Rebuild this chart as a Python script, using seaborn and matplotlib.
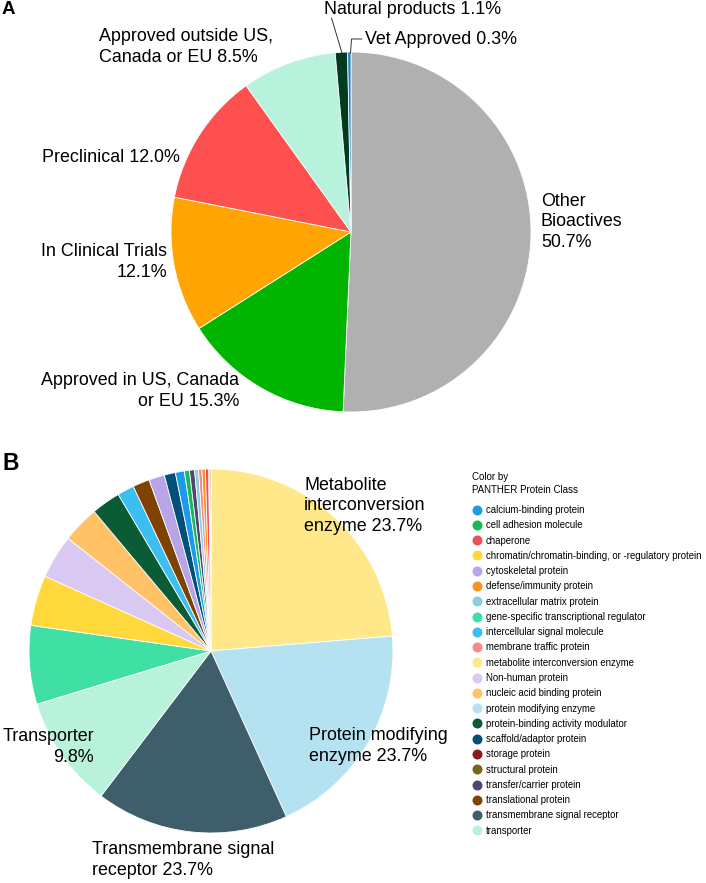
import matplotlib
matplotlib.use("Agg")
import matplotlib.pyplot as plt
from matplotlib.lines import Line2D
import seaborn as sns

sns.set_theme(style="white")
plt.rcParams['font.family'] = ['Liberation Sans', 'DejaVu Sans']
plt.rcParams['text.color'] = 'black'

# ---------------- Panel A data ----------------
a_labels = ["Other Bioactives", "Approved in US, Canada or EU", "In Clinical Trials",
            "Preclinical", "Approved outside US, Canada or EU", "Natural products",
            "Vet Approved"]
a_values = [50.7, 15.3, 12.1, 12.0, 8.5, 1.1, 0.3]
a_colors = ["#b0b0b0", "#00b400", "#ffa400", "#ff5050", "#b8f2dc", "#003d20", "#1e7fd0"]

# ---------------- Panel B data ----------------
b_classes = ["metabolite interconversion enzyme", "protein modifying enzyme",
             "transmembrane signal receptor", "transporter",
             "gene-specific transcriptional regulator",
             "chromatin/chromatin-binding, or -regulatory protein", "Non-human protein",
             "nucleic acid binding protein", "protein-binding activity modulator",
             "intercellular signal molecule", "translational protein", "cytoskeletal protein",
             "scaffold/adaptor protein", "calcium-binding protein", "cell adhesion molecule",
             "transfer/carrier protein", "extracellular matrix protein",
             "membrane traffic protein", "defense/immunity protein", "chaperone",
             "storage protein", "structural protein"]
b_values = [23.8, 19.6, 17.2, 10.0, 7.0, 4.5, 3.9, 3.3, 2.6, 1.5, 1.5, 1.4, 1.0, 0.8,
            0.45, 0.45, 0.35, 0.3, 0.3, 0.3, 0.1, 0.1]

class_colors = {
    "calcium-binding protein": "#1e9be8",
    "cell adhesion molecule": "#19b85a",
    "chaperone": "#f0505a",
    "chromatin/chromatin-binding, or -regulatory protein": "#ffd93b",
    "cytoskeletal protein": "#b9a4e8",
    "defense/immunity protein": "#f5941e",
    "extracellular matrix protein": "#8ecae0",
    "gene-specific transcriptional regulator": "#40e0a4",
    "intercellular signal molecule": "#3bbef2",
    "membrane traffic protein": "#f48a8c",
    "metabolite interconversion enzyme": "#ffe88a",
    "Non-human protein": "#d9c8f2",
    "nucleic acid binding protein": "#ffc266",
    "protein modifying enzyme": "#b5e2f0",
    "protein-binding activity modulator": "#0a5c36",
    "scaffold/adaptor protein": "#00507a",
    "storage protein": "#8b1a1a",
    "structural protein": "#7a6512",
    "transfer/carrier protein": "#4e4570",
    "translational protein": "#7f4200",
    "transmembrane signal receptor": "#3f5e6b",
    "transporter": "#b8f2da",
}
legend_order = ["calcium-binding protein", "cell adhesion molecule", "chaperone",
                "chromatin/chromatin-binding, or -regulatory protein", "cytoskeletal protein",
                "defense/immunity protein", "extracellular matrix protein",
                "gene-specific transcriptional regulator", "intercellular signal molecule",
                "membrane traffic protein", "metabolite interconversion enzyme",
                "Non-human protein", "nucleic acid binding protein", "protein modifying enzyme",
                "protein-binding activity modulator", "scaffold/adaptor protein",
                "storage protein", "structural protein", "transfer/carrier protein",
                "translational protein", "transmembrane signal receptor", "transporter"]

W, H = 706, 883
fig = plt.figure(figsize=(W / 100, H / 100), dpi=100)


def px_axes(cx, cy, r):
    return fig.add_axes([(cx - r) / W, 1 - (cy + r) / H, 2 * r / W, 2 * r / H])


def ftext(x, y, s, **kw):
    fig.text(x / W, 1 - y / H, s, **kw)


FS = 12.9

# ---------------- Panel A ----------------
axA = px_axes(351, 232, 180)
axA.pie(a_values, colors=a_colors, startangle=90, counterclock=False, radius=1,
        wedgeprops=dict(edgecolor="white", linewidth=0.6))
axA.set_xlim(-1, 1)
axA.set_ylim(-1, 1)
axA.set_aspect("equal")
axA.axis("off")

ftext(541, 222, "Other\nBioactives\n50.7%", fontsize=FS, ha="left", va="center", linespacing=1.25)
ftext(239, 391, "Approved in US, Canada\nor EU 15.3%", fontsize=FS, ha="right", va="center", linespacing=1.25, multialignment="right")
ftext(167, 262, "In Clinical Trials\n12.1%", fontsize=FS, ha="right", va="center", linespacing=1.25, multialignment="right")
ftext(180, 157, "Preclinical 12.0%", fontsize=FS, ha="right", va="center")
ftext(99, 47, "Approved outside US,\nCanada or EU 8.5%", fontsize=FS, ha="left", va="center", linespacing=1.25)
ftext(324, 10, "Natural products 1.1%", fontsize=FS, ha="left", va="center")
ftext(365, 39, "Vet Approved 0.3%", fontsize=FS, ha="left", va="center")

# leader lines
fig.add_artist(Line2D([331.5 / W, 342 / W], [1 - 18 / H, 1 - 53 / H], color="#333333", lw=0.7))
fig.add_artist(Line2D([362 / W, 351.5 / W, 350.5 / W], [1 - 39 / H, 1 - 39 / H, 1 - 53 / H],
                      color="#333333", lw=0.7))

ftext(2, 10, "A", fontsize=13.5, fontweight="bold", ha="left", va="center")

# ---------------- Panel B ----------------
axB = px_axes(211, 651, 182)
axB.pie(b_values, colors=[class_colors[c] for c in b_classes], startangle=90,
        counterclock=False, radius=1, wedgeprops=dict(edgecolor="white", linewidth=0.6))
axB.set_xlim(-1, 1)
axB.set_ylim(-1, 1)
axB.set_aspect("equal")
axB.axis("off")

ftext(304, 506, "Metabolite\ninterconversion\nenzyme 23.7%", fontsize=FS, ha="left", va="center", linespacing=1.25)
ftext(309, 746, "Protein modifying\nenzyme 23.7%", fontsize=FS, ha="left", va="center", linespacing=1.25)
ftext(94, 747, "Transporter\n9.8%", fontsize=FS, ha="right", va="center", linespacing=1.25, multialignment="right")
ftext(92, 860, "Transmembrane signal\nreceptor 23.7%", fontsize=FS, ha="left", va="center", linespacing=1.25)

ftext(2, 463, "B", fontsize=16.5, fontweight="bold", ha="left", va="center")

# legend
ftext(472, 483.5, "Color by\nPANTHER Protein Class", fontsize=7, ha="left", va="center", linespacing=1.37)
handles = [Line2D([], [], marker="o", linestyle="none", markersize=7.2,
                  markerfacecolor=class_colors[c], markeredgecolor="none", label=c)
           for c in legend_order]
leg = fig.legend(handles=handles, loc="upper left", bbox_to_anchor=(472 / W, 1 - 505 / H),
                 frameon=False, fontsize=6.9, handletextpad=0.45,
                 labelspacing=0.55, handlelength=1.0, borderpad=0.0, borderaxespad=0.0)

fig.savefig("out.png", dpi=100)
